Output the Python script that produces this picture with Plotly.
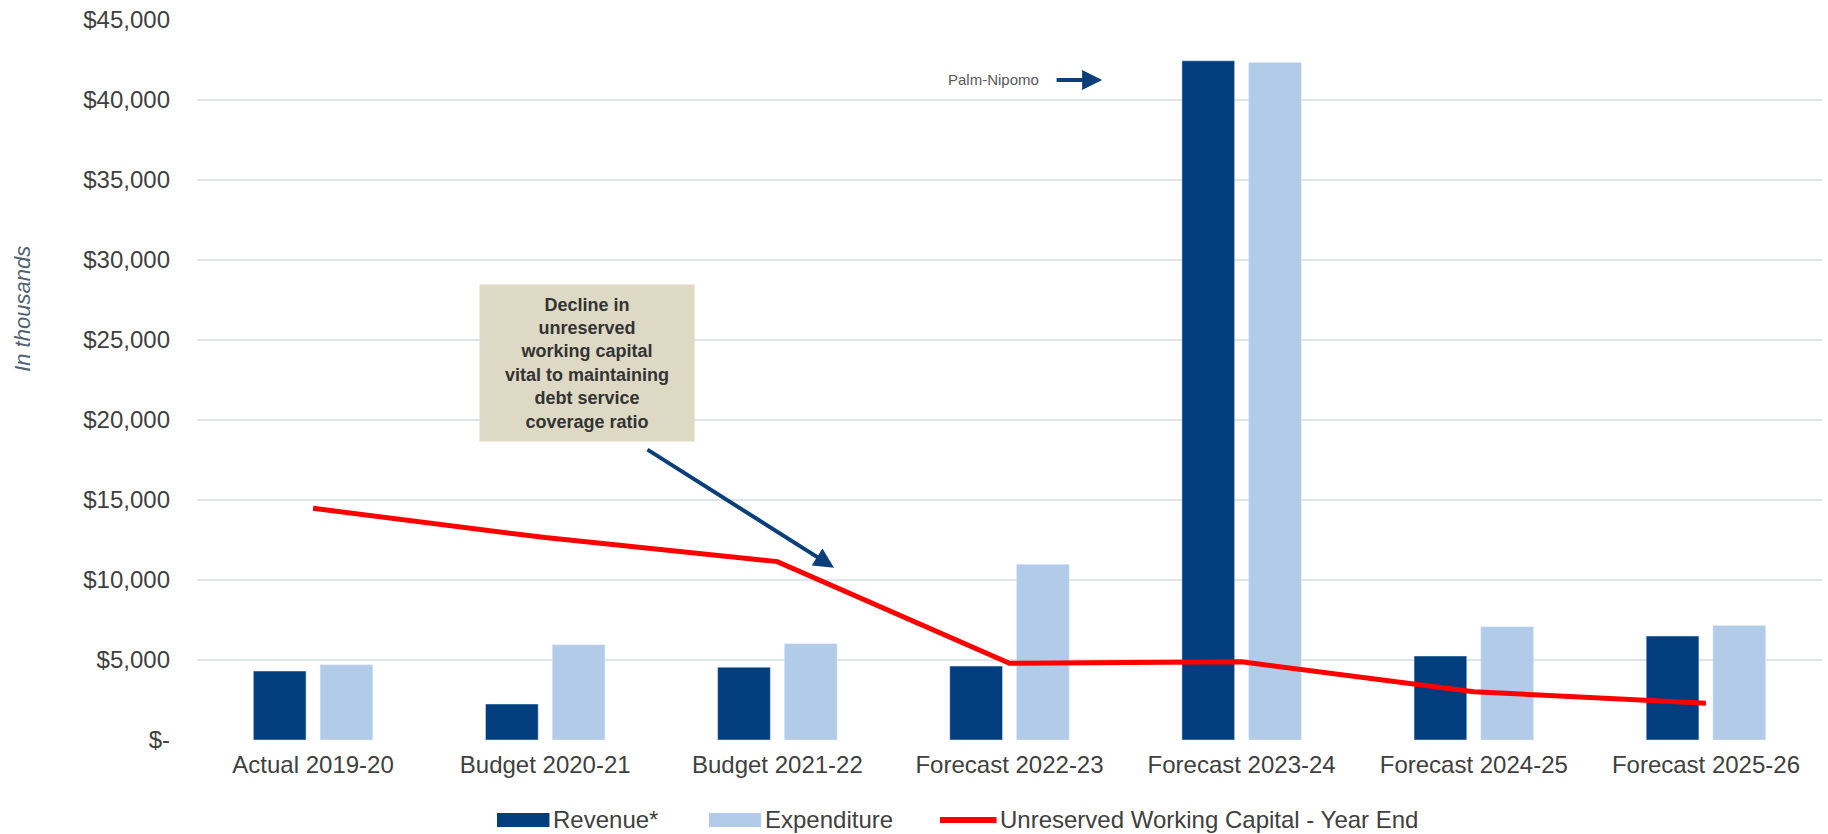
import plotly.graph_objects as go

categories = ["Actual 2019-20", "Budget 2020-21", "Budget 2021-22", "Forecast 2022-23",
              "Forecast 2023-24", "Forecast 2024-25", "Forecast 2025-26"]
revenue = [4310, 2250, 4550, 4620, 42450, 5250, 6500]
expenditure = [4700, 5950, 6020, 10980, 42350, 7080, 7160]
working_capital = [14480, 12650, 11150, 4790, 4890, 3020, 2290]
y_ticks = [0, 5000, 10000, 15000, 20000, 25000, 30000, 35000, 40000, 45000]
y_tick_text = ["$-", "$5,000", "$10,000", "$15,000", "$20,000", "$25,000",
               "$30,000", "$35,000", "$40,000", "$45,000"]
series_names = ["Revenue*", "Expenditure", "Unreserved Working Capital - Year End"]

FONT = "Liberation Sans, Arial, sans-serif"
DARK_BLUE = "#023E7D"
LIGHT_BLUE = "#B1CBE8"
RED = "#FF0000"
TEXT = "#404040"

fig = go.Figure()
fig.add_trace(go.Bar(x=categories, y=revenue, name=series_names[0], marker_color=DARK_BLUE))
fig.add_trace(go.Bar(x=categories, y=expenditure, name=series_names[1], marker_color=LIGHT_BLUE))
fig.add_trace(go.Scatter(x=categories, y=working_capital, mode="lines", name=series_names[2],
                         line=dict(color=RED, width=5)))

fig.update_layout(
    width=1828, height=834,
    margin=dict(l=197, r=6, t=20, b=94, autoexpand=False),
    paper_bgcolor="white", plot_bgcolor="white",
    font=dict(family=FONT, color=TEXT),
    barmode="group", bargap=0.425, bargroupgap=0.21,
    showlegend=False,
    xaxis=dict(type="category", showgrid=False, showline=False, zeroline=False,
               tickfont=dict(size=24, color=TEXT), ticks="", ticklabelstandoff=8),
    yaxis=dict(range=[0, 45000], tickvals=y_ticks, ticktext=y_tick_text,
               showgrid=True, gridcolor="#DFE4EA", gridwidth=2, zeroline=False,
               showline=False, tickfont=dict(size=24, color=TEXT), ticklabelstandoff=26),
)

# custom legend (wide swatches like the original)
leg_y0, leg_y1, leg_yc = -0.1208, -0.1014, -0.1111
fig.add_shape(type="rect", xref="paper", yref="paper", x0=0.1846, x1=0.2169,
              y0=leg_y0, y1=leg_y1, fillcolor=DARK_BLUE, line_width=0)
fig.add_shape(type="rect", xref="paper", yref="paper", x0=0.3151, x1=0.3471,
              y0=leg_y0, y1=leg_y1, fillcolor=LIGHT_BLUE, line_width=0)
fig.add_shape(type="line", xref="paper", yref="paper", x0=0.4572, x1=0.4920,
              y0=leg_yc, y1=leg_yc, line=dict(color=RED, width=6))
for lx, name in zip([0.2185, 0.3489, 0.4935], series_names):
    fig.add_annotation(xref="paper", yref="paper", x=lx, y=leg_yc, text=name,
                       showarrow=False, xanchor="left", yanchor="middle",
                       font=dict(size=24, color=TEXT, family=FONT), borderpad=0)

# y axis title
fig.add_annotation(xref="paper", yref="paper", x=-0.107, y=0.599, text="<i>In thousands</i>",
                   textangle=-90, showarrow=False, font=dict(size=22, color="#4E6175", family=FONT),
                   xanchor="center", yanchor="middle")

# callout box
fig.add_annotation(xref="paper", yref="paper", x=0.24, y=0.5236, xanchor="center", yanchor="middle",
                   text="<b>Decline in<br>unreserved<br>working capital<br>vital to maintaining<br>debt service<br>coverage ratio</b>",
                   showarrow=False, bgcolor="#DDD9C4", width=210, height=152, borderpad=2,
                   font=dict(size=18, color="#333333", family=FONT), align="center")

# callout arrow
fig.add_annotation(xref="paper", yref="y", x=0.392, y=10770, ax=-188, ay=-119,
                   text="", showarrow=True, arrowhead=2, arrowsize=1, arrowwidth=4,
                   arrowcolor="#0A3F7A")

# Palm-Nipomo label and arrow
fig.add_annotation(xref="paper", yref="y", x=0.5195, y=41300, text="Palm-Nipomo",
                   showarrow=False, xanchor="right", yanchor="middle",
                   font=dict(size=15, color="#595959", family=FONT))
fig.add_annotation(xref="paper", yref="y", x=0.557, y=41250, ax=-47, ay=0,
                   text="", showarrow=True, arrowhead=2, arrowsize=1, arrowwidth=4,
                   arrowcolor="#0A3F7A")

fig.write_html("out.html")
